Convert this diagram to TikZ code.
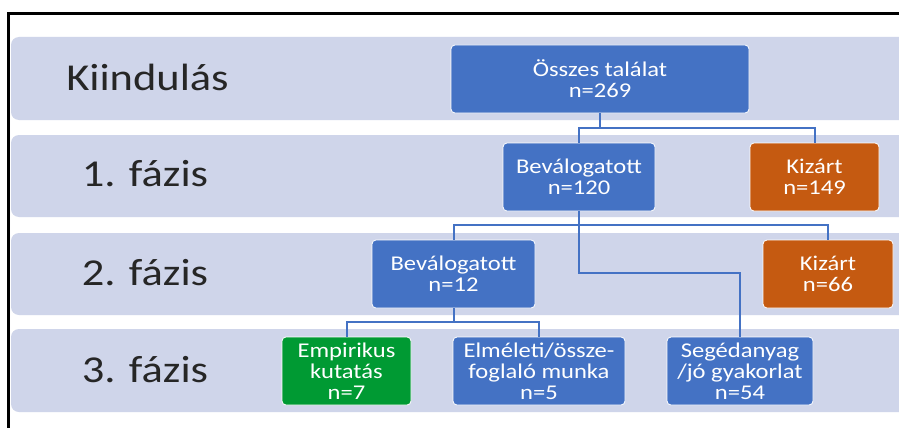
\documentclass[tikz,border=0pt]{standalone}
\usepackage{fontspec}
\setmainfont{Carlito}[FakeStretch=1.17]
\definecolor{bandc}{HTML}{CFD5EA}
\definecolor{blueb}{HTML}{4472C4}
\definecolor{orangeb}{HTML}{C55A11}
\definecolor{greenb}{HTML}{009A33}
\tikzset{
  band/.style={fill=bandc, draw=none, rounded corners=8pt},
  phase/.style={anchor=base, text=black!85, font=\fontsize{38}{40}\selectfont, inner sep=0pt},
  box/.style={draw=white, line width=0.8pt, rounded corners=4pt, text=white, align=center,
    inner sep=0pt, minimum height=68pt, font=\fontsize{21}{21}\selectfont},
  bluebox/.style={box, fill=blueb},
  orangebox/.style={box, fill=orangeb},
  greenbox/.style={box, fill=greenb},
  conn/.style={draw=blueb, line width=2pt}
}
\begin{document}
\begin{tikzpicture}[x=1pt,y=-1pt]
\useasboundingbox (0,0) rectangle (899,428);
\fill[white] (0,0) rectangle (899,428);
% frame
\draw[line width=2.5pt] (8.5,428) -- (8.5,13.5) -- (905,13.5);
% bands
\path[band] (11,37) rectangle (915,120);
\path[band] (11,135) rectangle (915,217);
\path[band] (11,233) rectangle (915,315);
\path[band] (11,329) rectangle (915,412);
% phase labels
\node[phase] (l0) at (147.5,90) {Kiindulás};
\node[phase] (l1) at (145,186) {1. fázis};
\node[phase] (l2) at (145,285) {2. fázis};
\node[phase] (l3) at (145,382) {3. fázis};
% boxes
\node[bluebox, minimum width=298pt] (osszes) at (600,79) {Összes találat\\n=269};
\node[bluebox, minimum width=152pt] (bev1) at (579,177) {Beválogatott\\n=120};
\node[orangebox, minimum width=129pt] (kiz1) at (814.5,177) {Kizárt\\n=149};
\node[bluebox, minimum width=163pt] (bev2) at (453.5,274) {Beválogatott\\n=12};
\node[orangebox, minimum width=130pt] (kiz2) at (828,274) {Kizárt\\n=66};
\node[greenbox, minimum width=129pt] (emp) at (346.5,371) {Empirikus\\kutatás\\n=7};
\node[bluebox, minimum width=172pt] (elm) at (539,371) {Elméleti/össze-\\foglaló munka\\n=5};
\node[bluebox, minimum width=146pt] (seg) at (740,371) {Segédanyag\\/jó gyakorlat\\n=54};
% connectors
\draw[conn] (osszes.south) -- ++(0,15) -| (bev1.north);
\draw[conn] (osszes.south) ++(0,15) -| (kiz1.north);
\draw[conn] (bev1.south) -- ++(0,14) -| (bev2.north);
\draw[conn] (bev1.south) ++(0,14) -| (kiz2.north);
\draw[conn] (bev1.south) -- ++(0,62) -| (seg.north);
\draw[conn] (bev2.south) -- ++(0,14) -| (emp.north);
\draw[conn] (bev2.south) ++(0,14) -| (elm.north);
\end{tikzpicture}
\end{document}
